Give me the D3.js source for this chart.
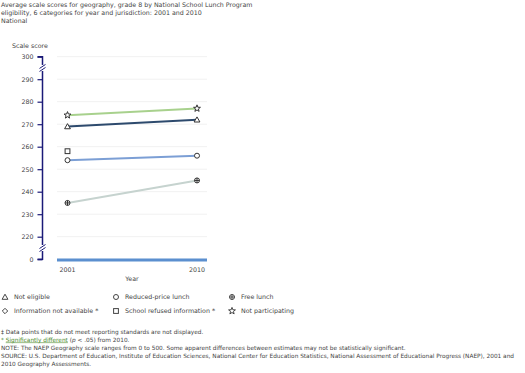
<!DOCTYPE html>
<html>
<head>
<meta charset="utf-8">
<script src="https://cdn.jsdelivr.net/npm/d3@7"></script>
<style>
  body { margin: 0; background: #fff; }
  svg { display: block; font-family: "DejaVu Sans", Verdana, sans-serif; }
  .t { fill: #444; }
</style>
</head>
<body>
<div id="chart"></div>
<script>
var years = ["2001", "2010"];
var notEligible = [269, 272];
var reducedPrice = [254, 256];
var freeLunch = [235, 245];
var infoNotAvailable = [null, null];
var schoolRefused = [258, null];
var notParticipating = [274, 277];
var yTicks = [0, 220, 230, 240, 250, 260, 270, 280, 290, 300];

var titleLines = ["Average scale scores for geography, grade 8 by National School Lunch Program",
                  "eligibility, 6 categories for year and jurisdiction: 2001 and 2010",
                  "National"];

var series = [
  {name: "Free lunch", values: freeLunch, color: "#c6d3cf", sym: "plus"},
  {name: "Reduced-price lunch", values: reducedPrice, color: "#7c9fd5", sym: "circle"},
  {name: "School refused information", values: schoolRefused, color: "#7c9fd5", sym: "square"},
  {name: "Information not available", values: infoNotAvailable, color: "#999", sym: "diamond"},
  {name: "Not eligible", values: notEligible, color: "#2d4a6d", sym: "triangle"},
  {name: "Not participating", values: notParticipating, color: "#a8d18d", sym: "star"}
];

var legendItems = [
  {label: "Not eligible", sym: "triangle"},
  {label: "Reduced-price lunch", sym: "circle"},
  {label: "Free lunch", sym: "plus"},
  {label: "Information not available *", sym: "diamond"},
  {label: "School refused information *", sym: "square"},
  {label: "Not participating", sym: "star"}
];

var W = 525, H = 373;
var svg = d3.select("#chart").append("svg")
  .attr("width", W)
  .attr("height", H);

/* title */
svg.selectAll(".title").data(titleLines).enter().append("text")
  .attr("class", "t title")
  .attr("x", 1)
  .attr("y", function(d, i) { return 6.5 + i * 8; })
  .style("font-size", "6.3px")
  .text(function(d) { return d; });

svg.append("text").attr("class", "t")
  .attr("x", 12).attr("y", 48)
  .style("font-size", "6.3px")
  .text("Scale score");

/* broken y scale: 0 then 220..300 */
var y = d3.scaleLinear().domain([0, 220, 300]).range([259.3, 236.7, 56.7]);
var x = d3.scalePoint().domain(years).range([67.5, 197]);
var axisX = 42.5, plotL = 57, plotR = 207;

/* grid */
svg.append("g").selectAll("line").data(yTicks).enter().append("line")
  .attr("x1", plotL).attr("x2", plotR)
  .attr("y1", function(d) { return y(d); })
  .attr("y2", function(d) { return y(d); })
  .attr("stroke", "#f1f1f1");

var yAxis = d3.axisLeft(y).tickValues(yTicks).tickSize(5).tickPadding(4);
var gY = svg.append("g")
  .attr("transform", "translate(" + axisX + ",0)")
  .call(yAxis);
gY.select(".domain").attr("stroke", "#1b1a78").attr("stroke-width", 1.5)
  .attr("d", "M-5," + y(300) + "H0V" + y(0) + "H-5");
gY.selectAll(".tick line").attr("stroke", "#1b1a78").attr("stroke-width", 1.2);
gY.selectAll(".tick text").attr("fill", "#444")
  .style("font-size", "6.3px").style("font-family", "DejaVu Sans, Verdana, sans-serif");

/* axis break marks */
[(y(300) + y(290)) / 2, (y(220) + y(0)) / 2].forEach(function(by) {
  svg.append("rect").attr("x", axisX - 3).attr("y", by - 3).attr("width", 6).attr("height", 6).attr("fill", "#fff");
  [-1.5, 1.5].forEach(function(o) {
    svg.append("line")
      .attr("x1", axisX - 3).attr("y1", by + o + 2)
      .attr("x2", axisX + 3).attr("y2", by + o - 2)
      .attr("stroke", "#1b1a78").attr("stroke-width", 1);
  });
});

/* baseline */
svg.append("line")
  .attr("x1", plotL).attr("x2", plotR)
  .attr("y1", y(0) + 0.7).attr("y2", y(0) + 0.7)
  .attr("stroke", "#5b8fcf").attr("stroke-width", 3);

var gX = svg.append("g");
gX.selectAll("text").data(years).enter().append("text")
  .attr("class", "t")
  .attr("x", function(d) { return x(d); })
  .attr("y", 272)
  .attr("text-anchor", "middle")
  .style("font-size", "6.3px")
  .text(function(d) { return d; });
svg.append("text").attr("class", "t")
  .attr("x", 132).attr("y", 281)
  .attr("text-anchor", "middle")
  .style("font-size", "6.3px")
  .text("Year");

function drawSymbol(g, sym, cx, cy, color) {
  var s = g.append("g").attr("transform", "translate(" + cx + "," + cy + ")")
    .attr("fill", "#fff").attr("stroke", color || "#444").attr("stroke-width", 1);
  if (sym === "circle") s.append("circle").attr("r", 2.5);
  else if (sym === "square") s.append("rect").attr("x", -2.4).attr("y", -2.4).attr("width", 4.8).attr("height", 4.8);
  else if (sym === "triangle") s.append("path").attr("d", "M0,-2.8L2.9,2.3H-2.9Z");
  else if (sym === "diamond") s.append("path").attr("d", "M0,-2.7L2.7,0L0,2.7L-2.7,0Z");
  else if (sym === "plus") {
    s.append("circle").attr("r", 2.5);
    s.append("path").attr("d", "M-2.5,0H2.5M0,-2.5V2.5");
  } else if (sym === "star") {
    var pts = [];
    for (var i = 0; i < 10; i++) {
      var a = -Math.PI / 2 + i * Math.PI / 5, r = i % 2 ? 1.5 : 3.6;
      pts.push([r * Math.cos(a), r * Math.sin(a)]);
    }
    s.append("path").attr("d", "M" + pts.join("L") + "Z");
  }
}

/* lines and points */
var line = d3.line()
  .defined(function(d) { return d.v != null; })
  .x(function(d) { return x(d.year); })
  .y(function(d) { return y(d.v); });

series.forEach(function(s) {
  var data = years.map(function(yr, i) { return {year: yr, v: s.values[i]}; });
  var valid = data.filter(function(d) { return d.v != null; });
  if (valid.length > 1) {
    svg.append("path").datum(data)
      .attr("d", line)
      .attr("fill", "none")
      .attr("stroke", s.color)
      .attr("stroke-width", 2);
  }
});
series.forEach(function(s) {
  years.forEach(function(yr, i) {
    if (s.values[i] != null) drawSymbol(svg, s.sym, x(yr), y(s.values[i]), "#333");
  });
});

/* legend */
var legCols = [5, 116, 232], legRows = [297, 311];
legendItems.forEach(function(d, i) {
  var cx = legCols[i % 3], cy = legRows[Math.floor(i / 3)];
  drawSymbol(svg, d.sym, cx, cy, "#444");
  svg.append("text").attr("class", "t")
    .attr("x", cx + 9).attr("y", cy + 2.2)
    .style("font-size", "6.3px")
    .text(d.label);
});

/* footnotes */
var foot = svg.append("g").style("font-size", "5.8px");
foot.append("text").attr("class", "t").attr("x", 1).attr("y", 333.5)
  .text("\u2021 Data points that do not meet reporting standards are not displayed.");
var f2 = foot.append("text").attr("class", "t").attr("x", 1).attr("y", 341.5);
f2.append("tspan").attr("fill", "#4c8a2b").text("* ");
f2.append("tspan").attr("fill", "#4c8a2b").attr("text-decoration", "underline").text("Significantly different");
f2.append("tspan").text(" (");
f2.append("tspan").style("font-style", "italic").text("p");
f2.append("tspan").text(" < .05) from 2010.");
foot.append("text").attr("class", "t").attr("x", 1).attr("y", 349.8)
  .text("NOTE:  The NAEP Geography scale ranges from 0 to 500. Some apparent differences between estimates may not be statistically significant.");
foot.append("text").attr("class", "t").attr("x", 1).attr("y", 357.8)
  .text("SOURCE: U.S. Department of Education, Institute of Education Sciences, National Center for Education Statistics, National Assessment of Educational Progress (NAEP), 2001 and");
foot.append("text").attr("class", "t").attr("x", 1).attr("y", 365.8)
  .text("2010 Geography Assessments.");
</script>
</body>
</html>
